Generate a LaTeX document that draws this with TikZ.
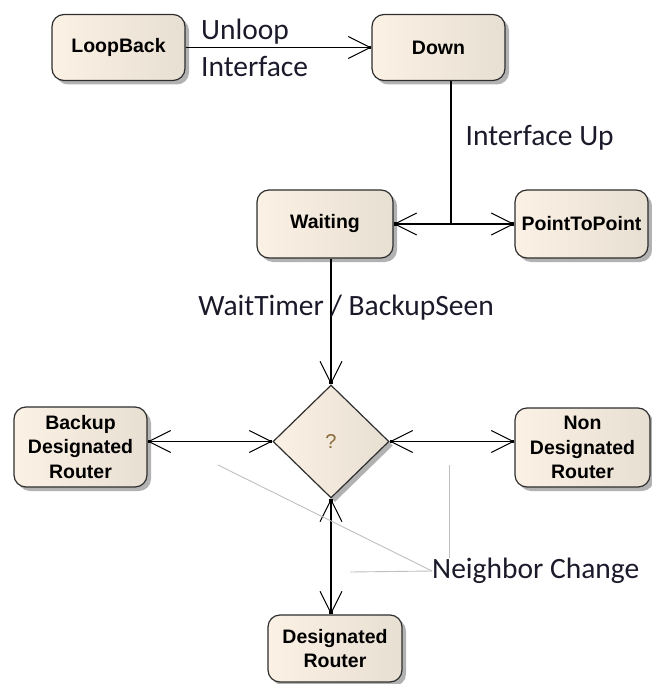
\documentclass[tikz,border=0pt]{standalone}
\usepackage{fontspec}
\setmainfont{Carlito}
\newfontfamily\boxfont{Liberation Sans}
\usetikzlibrary{arrows.meta,shapes.geometric,shadows}

\definecolor{boxleft}{HTML}{FBF1E4}
\definecolor{boxright}{HTML}{E8DFD3}
\definecolor{boxline}{HTML}{2E2E2E}
\definecolor{labeltext}{HTML}{1A1A2A}
\definecolor{qmark}{HTML}{8A6A3A}

\tikzset{
	state/.style={draw=boxline, line width=1.2pt, rounded corners=12pt, left color=boxleft, right color=boxright,
		drop shadow={shadow xshift=4pt, shadow yshift=-4pt, fill=black!30, opacity=1},
		align=center, inner sep=0pt, font=\boxfont\bfseries\fontsize{19.5}{24.5}\selectfont},
	choice/.style={diamond, draw=boxline, line width=1.2pt, left color=boxleft, right color=boxright,
		drop shadow={shadow xshift=4pt, shadow yshift=-4pt, fill=black!30, opacity=1},
		minimum width=116pt, minimum height=113pt, inner sep=0pt, text=qmark,
		font=\boxfont\fontsize{20}{22}\selectfont},
	trans/.style={line width=1.4pt, arrows={-{Straight Barb[length=22pt,width=22pt,line width=1pt,sep=-3.5pt]Square[length=3.5pt,width=3.5pt]}}},
	twoway/.style={line width=1.4pt, arrows={{Square[length=3.5pt,width=3.5pt]Straight Barb[length=22pt,width=22pt,line width=1pt,sep=-3.5pt]}-{Straight Barb[length=22pt,width=22pt,line width=1pt,sep=-3.5pt]Square[length=3.5pt,width=3.5pt]}}},
	lbl/.style={font=\fontsize{29.5}{35}\selectfont, text=labeltext, inner sep=0pt},
	hint/.style={draw=black!25, line width=0.9pt}
}

\begin{document}
\begin{tikzpicture}[x=1pt,y=-1pt]
		\useasboundingbox (0,0) rectangle (651,684);
		
		\node[state, minimum width=133pt, minimum height=66pt] (loopback) at (118.5,47.5) {LoopBack};
		\node[state, minimum width=133pt, minimum height=66pt] (down) at (438.5,47.5) {Down};
		\node[state, minimum width=136pt, minimum height=68pt] (waiting) at (325,224) {Waiting};
		\node[state, minimum width=133pt, minimum height=68pt] (ptp) at (581.5,224) {PointToPoint};
		\node[choice] (decide) at (331,441.5) {?};
		\node[state, minimum width=133pt, minimum height=80pt] (bdr) at (80.5,447) {Backup\\Designated\\Router};
		\node[state, minimum width=135pt, minimum height=79pt] (ndr) at (582.5,447.5) {Non\\Designated\\Router};
		\node[state, minimum width=134pt, minimum height=67pt] (dr) at (335,648.5) {Designated\\Router};
		\node[lbl, anchor=west] (nbrchange) at (432,571) {Neighbor Change};
		
		\coordinate (fork) at (451,224);
		\coordinate (hintA) at (218,465);
		\coordinate (hintB) at (350,572);
		\coordinate (hintC) at (449,465);
		
		%%%%% Arrows %%%%%%
		\draw[trans] (loopback)--(down)node[lbl,pos=0.08,anchor=south west,yshift=3pt]{Unloop}
			node[lbl,pos=0.08,anchor=north west,yshift=-8pt]{Interface};
		\draw[line width=1.4pt] (down.south -| fork)--(fork)node[lbl,pos=0.4,anchor=west,xshift=14pt]{Interface Up};
		\draw[trans] (fork)--(waiting.east);
		\draw[trans] (fork)--(ptp.west);
		\draw[trans] (waiting.south -| decide.north)--(decide.north)node[lbl,pos=0.39,xshift=15pt]{WaitTimer / BackupSeen};
		\draw[twoway] (decide.west)--(decide.west -| bdr.east);
		\draw[twoway] (decide.east)--(decide.east -| ndr.west);
		\draw[twoway] (decide.south)--(decide.south |- dr.north);
		
		%%%%% Note lines %%%%%%
		\draw[hint] (nbrchange.west)--(hintA);
		\draw[hint] (nbrchange.west)--(hintB);
		\draw[hint] (nbrchange.north -| hintC)--(hintC);
		
\end{tikzpicture}
\end{document}
